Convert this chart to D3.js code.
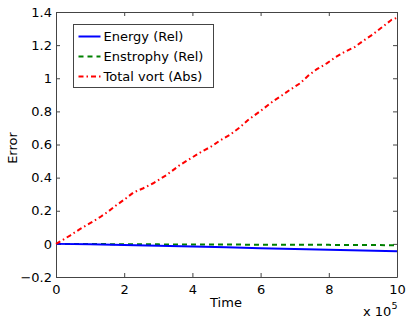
<!DOCTYPE html>
<html>
<head>
<meta charset="utf-8">
<script src="https://cdn.jsdelivr.net/npm/d3@7"></script>
<style>
  body { margin: 0; background: #fff; }
  svg { display: block; font-family: "DejaVu Sans", "Liberation Sans", Arial, sans-serif; }
</style>
</head>
<body>
<div id="chart"></div>
<script>
// data (time in units of 1e5)
const relTime = [0, 1, 2, 3, 4, 5, 6, 7, 8, 9, 10];
const energyRel = [0, -0.002, -0.007, -0.011, -0.016, -0.021, -0.026, -0.031, -0.036, -0.040, -0.045];
const enstrophyRel = [0, -0.001, -0.002, -0.003, -0.004, -0.004, -0.005, -0.006, -0.006, -0.007, -0.008];

const vortTime = [0, 0.41, 0.70, 1.0, 1.29, 1.53, 1.78, 2.02, 2.27, 2.56, 2.85, 3.25, 3.64, 3.98, 4.27, 4.52, 4.81, 5.1, 5.4, 5.64, 5.98, 6.37, 6.62, 6.86, 7.16, 7.40, 7.65, 7.94, 8.18, 8.47, 8.77, 9.01, 9.30, 9.55, 9.84, 10];
const vortAbs = [0, 0.05, 0.089, 0.125, 0.161, 0.195, 0.235, 0.27, 0.31, 0.336, 0.366, 0.417, 0.477, 0.52, 0.557, 0.584, 0.624, 0.658, 0.705, 0.749, 0.80, 0.862, 0.896, 0.93, 0.97, 1.016, 1.055, 1.09, 1.125, 1.16, 1.19, 1.226, 1.266, 1.306, 1.353, 1.365];

const xTicks = [0, 2, 4, 6, 8, 10];
const yTicks = [-0.2, 0, 0.2, 0.4, 0.6, 0.8, 1, 1.2, 1.4];

const legendItems = [
  { label: "Energy (Rel)", color: "#0000ff", dash: null },
  { label: "Enstrophy (Rel)", color: "#008000", dash: "5,4" },
  { label: "Total vort (Abs)", color: "#ff0000", dash: "5,3,1.5,3" }
];

const width = 409, height = 317;
const margin = { top: 12, right: 12, bottom: 40, left: 56 };
const w = width - margin.left - margin.right;
const h = height - margin.top - margin.bottom;

const svg = d3.select("#chart").append("svg")
  .attr("width", width)
  .attr("height", height);

const g = svg.append("g").attr("transform", `translate(${margin.left},${margin.top})`);

const x = d3.scaleLinear().domain([0, 10]).range([0, w]);
const y = d3.scaleLinear().domain([-0.2, 1.4]).range([h, 0]);

const fmt = d => d < 0 ? "\u2212" + Math.abs(d) : String(d);
const axisColor = "#444";
const tickLen = 4;

// axes (ticks inward, box on all sides)
const axBottom = g.append("g").attr("transform", `translate(0,${h})`)
  .call(d3.axisBottom(x).tickValues(xTicks).tickSizeInner(-tickLen).tickSizeOuter(0).tickPadding(8).tickFormat(fmt));
const axLeft = g.append("g")
  .call(d3.axisLeft(y).tickValues(yTicks).tickSizeInner(-tickLen).tickSizeOuter(0).tickPadding(4).tickFormat(fmt));
const axTop = g.append("g")
  .call(d3.axisTop(x).tickValues(xTicks).tickSizeInner(-tickLen).tickSizeOuter(0).tickFormat(""));
const axRight = g.append("g").attr("transform", `translate(${w},0)`)
  .call(d3.axisRight(y).tickValues(yTicks).tickSizeInner(-tickLen).tickSizeOuter(0).tickFormat(""));

[axBottom, axLeft, axTop, axRight].forEach(a => {
  a.attr("font-family", null);
  a.selectAll(".domain").attr("stroke", axisColor);
  a.selectAll(".tick line").attr("stroke", axisColor);
  a.selectAll("text").attr("fill", "#000").style("font-size", "13px");
});

// lines
const line = d3.line().x(d => x(d[0])).y(d => y(d[1]));

g.append("path")
  .datum(relTime.map((t, i) => [t, enstrophyRel[i]]))
  .attr("d", line).attr("fill", "none")
  .attr("stroke", "#008000").attr("stroke-width", 2).attr("stroke-dasharray", "5,4");

g.append("path")
  .datum(relTime.map((t, i) => [t, energyRel[i]]))
  .attr("d", line).attr("fill", "none")
  .attr("stroke", "#0000ff").attr("stroke-width", 2);

g.append("path")
  .datum(vortTime.map((t, i) => [t, vortAbs[i]]))
  .attr("d", line).attr("fill", "none")
  .attr("stroke", "#ff0000").attr("stroke-width", 2).attr("stroke-dasharray", "5,3,1.5,3");

// axis labels
svg.append("text")
  .attr("x", 226).attr("y", 307)
  .attr("text-anchor", "middle").style("font-size", "13px").text("Time");

svg.append("text")
  .attr("transform", "translate(16.5,148) rotate(-90)")
  .attr("text-anchor", "middle").style("font-size", "13px").text("Error");

const expo = svg.append("text").attr("x", 363).attr("y", 315.5).style("font-size", "13px");
expo.append("tspan").text("x 10");
expo.append("tspan").attr("dy", -7).style("font-size", "9.5px").text("5");

// legend
const lg = svg.append("g").attr("transform", "translate(73.5,24.5)");
lg.append("rect").attr("width", 140).attr("height", 63)
  .attr("fill", "#fff").attr("stroke", axisColor);
legendItems.forEach((d, i) => {
  const yy = 12 + i * 20;
  lg.append("line").attr("x1", 5).attr("x2", 27).attr("y1", yy).attr("y2", yy)
    .attr("stroke", d.color).attr("stroke-width", 2)
    .attr("stroke-dasharray", d.dash);
  lg.append("text").attr("x", 30).attr("y", yy + 4.5)
    .style("font-size", "13px").text(d.label);
});
</script>
</body>
</html>
